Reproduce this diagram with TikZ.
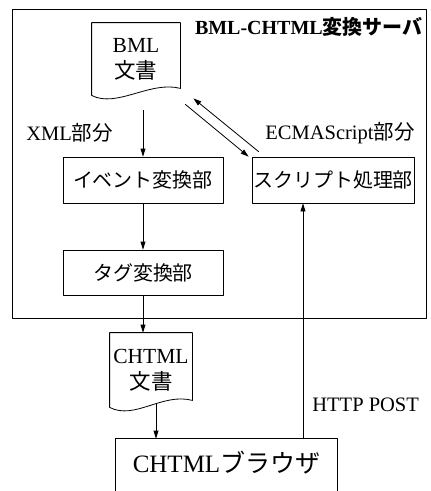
\documentclass[tikz,border=0pt]{standalone}
\usepackage{fontspec}
\setmainfont{Liberation Serif}
\newfontfamily\jpfont{Noto Sans CJK JP}
\usetikzlibrary{arrows.meta}
\newcommand{\docoutline}[1]{%
  \draw (#1.south west) -- (#1.north west) -- (#1.north east) -- ([yshift=7pt]#1.south east)
    .. controls ([xshift=-30pt,yshift=15pt]#1.south east) and ([xshift=25pt,yshift=-13pt]#1.south west) .. (#1.south west);}

\begin{document}
\begin{tikzpicture}[line cap=round,line join=round,>={Triangle[length=8pt,width=5pt]},x=1pt,y=-1pt,line width=0.8pt,
  box/.style={draw,minimum width=160pt,minimum height=46pt,inner sep=0pt,font=\fontsize{20}{24}\selectfont\jpfont},
  docbox/.style={minimum height=72pt,inner sep=0pt,align=center,font=\fontsize{21.5}{26}\selectfont},
  lbl/.style={inner sep=0pt,font=\fontsize{20.5}{24}\selectfont}]
        \useasboundingbox (0,0) rectangle (431,491);
        \clip (0,0) rectangle (431,491);
        % \draw [help lines,step=10pt] (0,0) grid (431,491);
        \node[draw,minimum width=414pt,minimum height=309pt] (server) at (219,163.5) {};
        \node[lbl,anchor=east,font=\fontsize{20}{24}\selectfont\bfseries] (title) at (423,27) {BML-CHTML{\jpfont 変換サーバ}};
        \node[docbox,minimum width=88pt] (bml) at (136,59) {BML\\{\jpfont 文書}};
        \docoutline{bml}
        \node[lbl,anchor=west] (xmllbl) at (26,133) {XML{\jpfont 部分}};
        \node[lbl,anchor=east] (ecmalbl) at (415,133) {ECMAScript{\jpfont 部分}};
        \node[box] (event) at (143,180) {イベント変換部};
        \node[box,minimum width=162pt] (script) at (333,180) {スクリプト処理部};
        \node[box,minimum height=45pt] (tag) at (143,272.5) {タグ変換部};
        \node[docbox,minimum width=82pt,minimum height=74pt] (chtml) at (151,370) {CHTML\\{\jpfont 文書}};
        \docoutline{chtml}
        \node[lbl,anchor=west] (httplbl) at (312,405) {HTTP POST};
        \node[minimum width=221pt,minimum height=48pt,inner sep=0pt,font=\fontsize{25}{30}\selectfont] (browser) at (226.5,463) {CHTML{\jpfont ブラウザ}};
        \draw ([yshift=-20pt]browser.south west) -- (browser.north west) -- (browser.north east) -- ([yshift=-20pt]browser.south east);
        \path (bml.south -| event.north) ++(0,15) coordinate (xmlstart);
        \draw[->] (xmlstart) -- (event.north);
        \draw[->] ([shift={(5pt,-9pt)}]bml.south east) -- ([xshift=-3pt]script.north west);
        \draw[->] ([shift={(7pt,5pt)}]script.north west) -- ([shift={(13pt,-3pt)}]bml.south east);
        \draw[->] (event.south) -- (tag.north);
        \draw[->] (tag.south) -- (tag.south |- chtml.north);
        \path (chtml.south) ++(5,-4) coordinate (docout);
        \draw[->] (docout) -- (docout |- browser.north);
        \path (script.south) ++(-30,0) coordinate (postx);
        \draw[->] (postx |- browser.north) -- (postx);
\end{tikzpicture}
\end{document}
